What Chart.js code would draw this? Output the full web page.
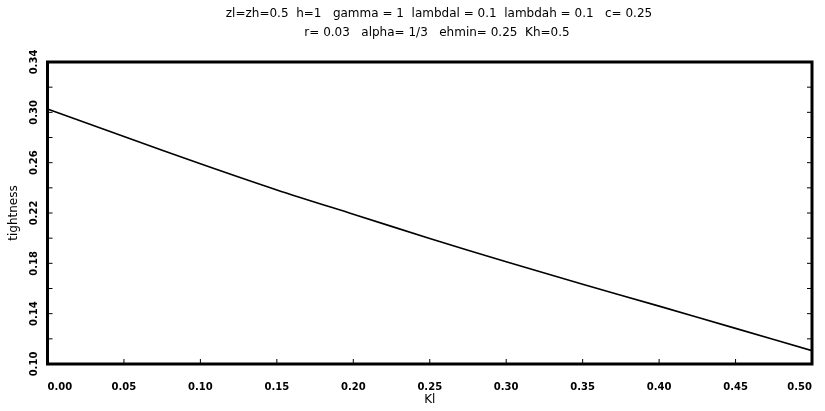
<!DOCTYPE html>
<html>
<head>
<meta charset="utf-8">
<script src="https://cdn.jsdelivr.net/npm/chart.js@4/dist/chart.umd.min.js"></script>
<style>
  html, body { margin: 0; padding: 0; background: #fff; }
  #wrap { width: 825px; height: 411px; }
</style>
</head>
<body>
<div id="wrap"><canvas id="chart"></canvas></div>
<script>
// values
var kl = [0.00, 0.05, 0.10, 0.15, 0.20, 0.25, 0.30, 0.35, 0.40, 0.45, 0.50];
var tightness = [0.3026, 0.2808, 0.2591, 0.2383, 0.2190, 0.1998, 0.1812, 0.1634, 0.1460, 0.1283, 0.1106];
var titleLines = [
    "zl=zh=0.5  h=1   gamma = 1  lambdal = 0.1  lambdah = 0.1   c= 0.25",
    "r= 0.03   alpha= 1/3   ehmin= 0.25  Kh=0.5"
];
var yLabelValues = [0.10, 0.14, 0.18, 0.22, 0.26, 0.30, 0.34];

var FONT = "'DejaVu Sans', sans-serif";

// title (sits a bit right of centre in the original), frame, inward ticks, rotated y labels
var framePlugin = {
    id: "frame",
    afterDraw: function (chart) {
        var ctx = chart.ctx;
        var a = chart.chartArea;
        var xs = chart.scales.x;
        var ys = chart.scales.y;
        ctx.save();
        ctx.fillStyle = "#000";
        ctx.font = "12px " + FONT;
        ctx.textAlign = "center";
        ctx.textBaseline = "middle";
        ctx.fillText(titleLines[0], 439, 14);
        ctx.fillText(titleLines[1], 437, 33);

        ctx.strokeStyle = "#000";
        ctx.lineWidth = 1;
        ctx.beginPath();
        xs.ticks.forEach(function (t) {
            var px = xs.getPixelForValue(t.value);
            if (px <= a.left + 2 || px >= a.right - 2) return;
            ctx.moveTo(px, a.bottom);
            ctx.lineTo(px, a.bottom - 5);
        });
        ys.ticks.forEach(function (t) {
            var py = ys.getPixelForValue(t.value);
            if (py <= a.top + 2 || py >= a.bottom - 2) return;
            ctx.moveTo(a.left, py);
            ctx.lineTo(a.left + 5, py);
            ctx.moveTo(a.right, py);
            ctx.lineTo(a.right - 5, py);
        });
        ctx.stroke();

        ctx.lineWidth = 3;
        ctx.strokeRect(a.left, a.top, a.right - a.left, a.bottom - a.top);

        ctx.font = "bold 10px " + FONT;
        yLabelValues.forEach(function (v) {
            var py = ys.getPixelForValue(v);
            ctx.save();
            ctx.translate(34, py);
            ctx.rotate(-Math.PI / 2);
            ctx.fillText(v.toFixed(2), 0, 0);
            ctx.restore();
        });
        ctx.restore();
    }
};

new Chart("chart", {
    type: "line",
    data: {
        datasets: [
            {
                data: kl.map(function (x, i) { return { x: x, y: tightness[i] }; }),
                borderColor: "#000",
                borderWidth: 1.6,
                pointRadius: 0,
                tension: 0.3,
                fill: false,
            },
        ],
    },
    options: {
        responsive: true,
        maintainAspectRatio: false,
        animation: false,
        layout: { padding: { left: 0, right: 13, top: 62, bottom: 0 } },
        plugins: {
            legend: { display: false },
            tooltip: { enabled: false },
            title: { display: false },
        },
        scales: {
            x: {
                type: "linear",
                min: 0,
                max: 0.5,
                grid: { display: false },
                border: { display: false },
                ticks: {
                    stepSize: 0.05,
                    color: "#000",
                    padding: 9,
                    maxRotation: 0,
                    align: "inner",
                    font: { family: FONT, size: 10, weight: "bold" },
                    callback: function (v) { return v.toFixed(2); },
                },
                title: {
                    display: true,
                    text: "Kl",
                    color: "#000",
                    font: { family: FONT, size: 12 },
                    padding: { top: 5, bottom: 4 },
                },
                afterFit: function (s) { s.height = 47; },
            },
            y: {
                min: 0.1,
                max: 0.34,
                grid: { display: false },
                border: { display: false },
                ticks: { stepSize: 0.02, display: false },
                title: {
                    display: true,
                    text: "tightness",
                    color: "#000",
                    font: { family: FONT, size: 12 },
                    padding: { top: 7, bottom: 0 },
                },
                afterFit: function (s) { s.width = 47.5; },
            },
        },
    },
    plugins: [framePlugin],
});
</script>
</body>
</html>
